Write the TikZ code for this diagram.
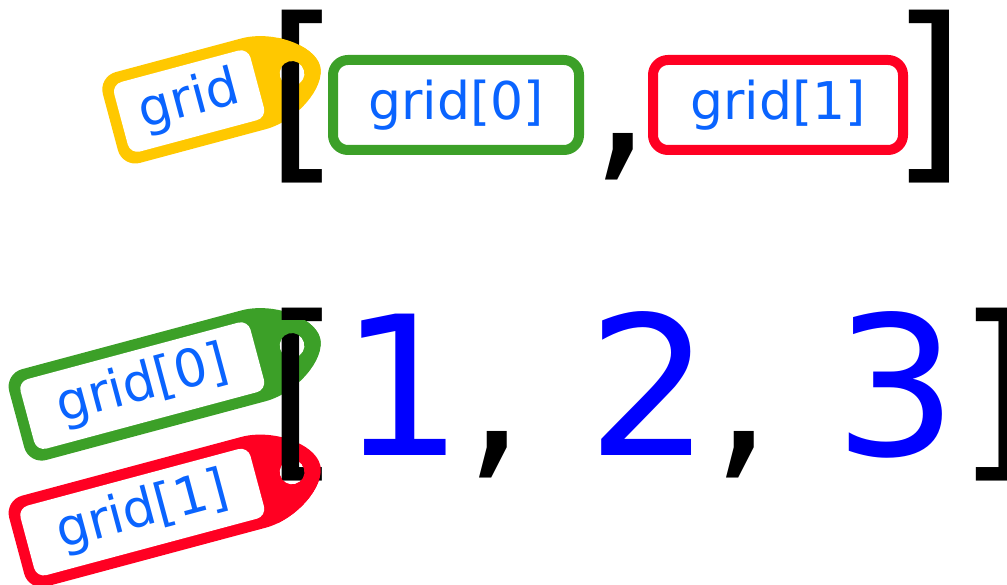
\documentclass[tikz,border=0pt]{standalone}
\usepackage{fontspec}
\setmainfont{DejaVu Sans}
\definecolor{tagblue}{RGB}{10,100,255}
\definecolor{numblue}{RGB}{0,0,255}
\definecolor{taggreen}{RGB}{60,160,40}
\definecolor{tagred}{RGB}{255,0,34}
\definecolor{tagyellow}{RGB}{255,200,0}
\tikzset{
	taglabel/.style={font=\fontsize{52}{62}\selectfont, text=tagblue, inner sep=0},
	listtext/.style={font=\fontsize{194}{230}\selectfont, inner sep=0, anchor=base west},
	listbox/.style={line width=10pt, rounded corners=15pt, minimum height=90pt, inner sep=0, font=\fontsize{52}{62}\selectfont, text=tagblue}
}
\def\tagbody[#1](#2)(#3){\fill[#1, even odd rule, shift={(#2)}, rotate=15] (-40,47) -- (#3+18,47) arc (90:180:18) -- (#3,-29) arc (180:270:18) -- (-40,-47) .. controls (-8,-47) and (29,-22) .. (29,0) .. controls (29,22) and (-8,47) .. (-40,47) -- cycle (0,0) circle (12.5);}
\def\luggage[#1](#2)(#3)#4#5{%
	\tagbody[#1](#2)(#3)
	\begin{scope}[shift={(#2)}, rotate=15]
		\fill[white, rounded corners=10pt] (#3+11,-36) rectangle (-36,36);
		\node[taglabel, transform shape] (#4) at ({(#3-25)/2},0) {#5};
	\end{scope}}

\begin{document}
\begin{tikzpicture}[x=1pt, y=1pt]
			%%%%% START %%%%%
			\useasboundingbox (0,0) rectangle (1007,-585);
			
			\luggage[tagyellow](292,-73.5)(-188){tagA}{grid}
			\luggage[taggreen](292,-345.5)(-285){tagB0}{grid[0]}
			\luggage[tagred](292,-472)(-285){tagB1}{grid[1]}
			
			\node[listtext] (openA) at (265,-157.5) {[};
			\node[listbox, draw=taggreen, minimum width=246pt] (boxA0) at (456,-105) {grid[0]};
			\node[listtext] (commaA) at (590.6,-157.5) {,};
			\node[listbox, draw=tagred, minimum width=250pt] (boxA1) at (778,-105) {grid[1]};
			\node[listtext] (closeA) at (890.7,-157.5) {]};
			
			\node[listtext] (listB) at (265,-455) {[\textcolor{numblue}{1}, \textcolor{numblue}{2}, \textcolor{numblue}{3}]};
			
			% bracket goes behind the tags above the holes
			\begin{scope}
				\clip (278,0) rectangle (330,-73.5);
				\tagbody[tagyellow](292,-73.5)(-188)
			\end{scope}
			\begin{scope}
				\clip (278,-321) rectangle (330,-345.5);
				\tagbody[taggreen](292,-345.5)(-285)
			\end{scope}
			\begin{scope}
				\clip (278,-465) rectangle (330,-600);
				\tagbody[tagred](292,-472)(-285)
			\end{scope}
			
			%%%%% END %%%%%
\end{tikzpicture}
\end{document}
